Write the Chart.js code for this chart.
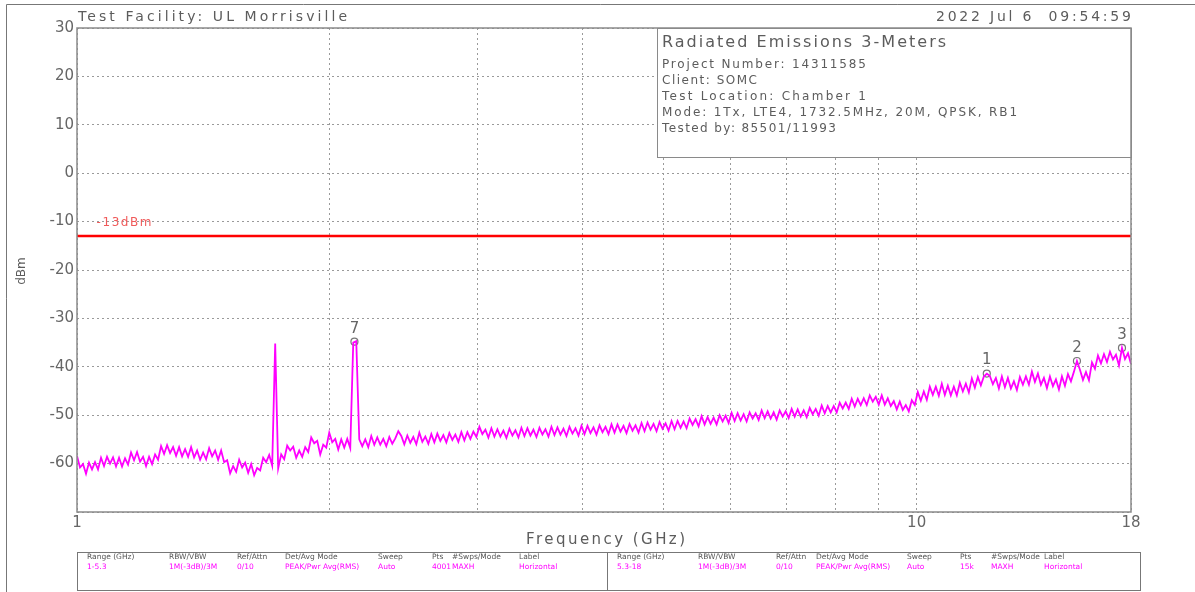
<!DOCTYPE html>
<html>
<head>
<meta charset="utf-8">
<title>Radiated Emissions 3-Meters</title>
<script src="https://cdn.jsdelivr.net/npm/chart.js@4.4.1/dist/chart.umd.min.js"></script>
<style>
  html, body { margin: 0; padding: 0; background: #fff; }
  canvas { display: block; }
</style>
</head>
<body>
<canvas id="chart" width="1195" height="592"></canvas>
<script>
// ---- values ----
const sweepStart = 1;   // GHz
const sweepStop = 18;   // GHz

// max-hold trace (dBm), one value per sweep point, left to right
const traceLevels = [
  -58.4, -60.8, -60.1, -62.1, -59.8, -61.2, -59.7, -61.2, -58.8, -60.5,
  -58.6, -60.0, -58.7, -60.6, -58.8, -60.6, -58.9, -60.2, -57.7, -59.3,
  -57.6, -59.6, -58.6, -60.5, -58.6, -60.1, -58.1, -59.2, -56.4, -58.0,
  -56.2, -57.8, -56.6, -58.4, -56.6, -58.5, -57.0, -58.6, -56.6, -58.7,
  -57.3, -59.2, -57.7, -59.1, -56.8, -58.5, -57.3, -59.2, -57.3, -59.7,
  -59.3, -62.0, -60.5, -61.7, -59.2, -60.8, -59.8, -61.9, -60.1, -62.4,
  -60.9, -61.4, -58.8, -59.7, -58.2, -60.4, -35.2, -61.0, -58.1, -59.1,
  -56.3, -57.3, -56.5, -58.8, -57.3, -58.6, -56.6, -57.6, -54.6, -55.8,
  -55.3, -58.1, -56.1, -56.7, -53.6, -55.6, -54.9, -57.1, -55.0, -56.7,
  -54.9, -56.8, -35.0, -34.7, -55.0, -56.4, -55.0, -56.6, -54.3, -56.1,
  -54.6, -56.1, -54.9, -56.4, -54.5, -55.9, -54.8, -53.3, -54.3, -56.0,
  -54.2, -55.7, -54.5, -56.0, -53.6, -55.5, -54.4, -55.9, -53.9, -55.6,
  -53.8, -55.3, -54.1, -55.6, -53.7, -55.1, -54.0, -55.5, -53.5, -55.2,
  -53.5, -54.9, -53.4, -54.5, -52.4, -53.9, -53.0, -54.6, -52.7, -54.4,
  -52.9, -54.4, -53.2, -54.7, -52.8, -54.2, -53.1, -54.6, -52.6, -54.3,
  -52.7, -54.2, -53.0, -54.5, -52.6, -54.0, -52.9, -54.4, -52.4, -54.1,
  -52.5, -54.0, -52.8, -54.3, -52.4, -53.8, -52.7, -54.2, -52.2, -53.9,
  -52.2, -53.7, -52.5, -54.0, -52.1, -53.5, -52.4, -53.9, -51.9, -53.6,
  -51.9, -53.4, -52.2, -53.7, -51.8, -53.2, -52.1, -53.6, -51.6, -53.3,
  -51.5, -53.0, -51.8, -53.3, -51.4, -52.8, -51.7, -53.2, -51.2, -52.9,
  -51.2, -52.6, -51.3, -52.7, -50.7, -52.0, -50.8, -52.3, -50.2, -51.9,
  -50.4, -51.8, -50.5, -51.9, -50.0, -51.3, -50.1, -51.6, -49.5, -51.2,
  -49.6, -51.1, -49.8, -51.3, -49.4, -50.7, -49.6, -51.0, -49.0, -50.6,
  -49.2, -50.7, -49.4, -50.9, -49.0, -50.3, -49.2, -50.6, -48.7, -50.3,
  -48.8, -50.3, -49.0, -50.4, -48.5, -49.8, -48.7, -50.1, -48.0, -49.6,
  -48.1, -49.4, -48.1, -49.4, -47.4, -48.6, -47.4, -48.7, -46.6, -48.2,
  -46.6, -47.9, -46.5, -47.9, -45.9, -47.2, -46.2, -47.8, -45.9, -47.8,
  -46.5, -48.1, -47.1, -48.8, -47.2, -48.9, -47.9, -49.2, -46.9, -47.9,
  -45.2, -47.0, -45.1, -46.8, -44.1, -45.8, -44.1, -46.0, -43.5, -45.8,
  -43.9, -45.9, -44.1, -45.9, -43.3, -45.1, -43.5, -45.3, -42.4, -44.3,
  -42.1, -43.8, -42.0, -41.4, -41.9, -43.6, -42.3, -44.5, -42.0, -44.2,
  -42.3, -44.5, -43.0, -44.8, -42.1, -43.7, -42.0, -43.7, -41.0, -43.1,
  -41.4, -43.7, -42.3, -44.4, -42.0, -44.0, -42.6, -44.7, -42.0, -43.9,
  -41.5, -43.0, -41.0, -38.8, -40.6, -42.7, -41.1, -42.8, -39.1, -40.4,
  -37.7, -39.3, -37.4, -39.0, -36.9, -38.5, -37.5, -39.7, -36.1, -38.4,
  -37.2, -39.4
];

const limitLevel = -13;
const limitLabel = "-13dBm";

const markerNames = ["1", "2", "3", "7"];
const markerFreqs = [12.12, 15.52, 17.56, 2.14];
const markerLevels = [-41.4, -38.8, -36.1, -34.8];

const yMin = -70;
const yMax = 30;
const yStep = 10;
const xGridValues = [1, 2, 3, 4, 5, 6, 7, 8, 9, 10, 18];
const xLabelValues = [1, 10, 18];

const headerLeft = "Test Facility: UL Morrisville";
const headerRight = "2022 Jul 6  09:54:59";
const infoTitle = "Radiated Emissions 3-Meters";
const infoLines = [
  "Project Number: 14311585",
  "Client: SOMC",
  "Test Location: Chamber 1",
  "Mode: 1Tx, LTE4, 1732.5MHz, 20M, QPSK, RB1",
  "Tested by: 85501/11993",
];
const xTitle = "Frequency (GHz)";
const yTitle = "dBm";

const tableHeaders = ["Range (GHz)", "RBW/VBW", "Ref/Attn", "Det/Avg Mode", "Sweep", "Pts", "#Swps/Mode", "Label"];
const tableRows = [
  ["1-5.3", "1M(-3dB)/3M", "0/10", "PEAK/Pwr Avg(RMS)", "Auto", "4001", "MAXH", "Horizontal"],
  ["5.3-18", "1M(-3dB)/3M", "0/10", "PEAK/Pwr Avg(RMS)", "Auto", "15k", "MAXH", "Horizontal"],
];

// ---- build datasets ----
const sweepFreqs = traceLevels.map((_, i) =>
  sweepStart * Math.pow(sweepStop / sweepStart, i / (traceLevels.length - 1))
);
const tracePoints = traceLevels.map((v, i) => ({ x: sweepFreqs[i], y: v }));
const limitPoints = [{ x: sweepStart, y: limitLevel }, { x: sweepStop, y: limitLevel }];
const markerPoints = markerFreqs.map((f, i) => ({ x: f, y: markerLevels[i] }));

const FONT = '"DejaVu Sans", sans-serif';
const INK = "#5c5c5c";
const PINK = "#ff00ff";

// text with letter spacing stretched to a target width (the plotter font is wide)
function drawText(ctx, s, x, y, size, color, width) {
  ctx.save();
  ctx.font = size + "px " + FONT;
  ctx.fillStyle = color;
  ctx.textAlign = "left";
  ctx.textBaseline = "middle";
  if (width) {
    const w = ctx.measureText(s).width;
    ctx.letterSpacing = ((width - w) / Math.max(s.length - 1, 1)).toFixed(2) + "px";
  }
  ctx.fillText(s, x, y);
  ctx.restore();
}

const decorPlugin = {
  id: "decor",
  beforeDraw(chart) {
    const ctx = chart.ctx;
    ctx.save();
    ctx.fillStyle = "#fff";
    ctx.fillRect(0, 0, chart.width, chart.height);
    ctx.restore();
  },
  beforeDatasetsDraw(chart) {
    // info box sits on top of the grid
    const ctx = chart.ctx;
    const ca = chart.chartArea;
    const left = ca.right - 474;
    const top = ca.top;
    ctx.save();
    ctx.fillStyle = "#fff";
    ctx.fillRect(left, top, ca.right - left, 129);
    ctx.strokeStyle = "#8a8a8a";
    ctx.lineWidth = 1;
    ctx.strokeRect(left + 0.5, top + 0.5, ca.right - left, 129);
    ctx.restore();
    drawText(ctx, infoTitle, left + 5, top + 15, 16, INK, 284);
    const widths = [204, 95, 204, 355, 174];
    infoLines.forEach((s, i) => drawText(ctx, s, left + 5, top + 37 + 16 * i, 12, INK, widths[i]));
  },
  afterDatasetsDraw(chart) {
    const ctx = chart.ctx;
    const ca = chart.chartArea;
    const xs = chart.scales.x;
    const ys = chart.scales.y;

    // plot frame
    ctx.save();
    ctx.strokeStyle = "#8a8a8a";
    ctx.lineWidth = 1.5;
    ctx.strokeRect(ca.left, ca.top, ca.right - ca.left, ca.bottom - ca.top);
    ctx.restore();

    // marker numbers
    ctx.save();
    ctx.font = "15px " + FONT;
    ctx.fillStyle = "#666";
    ctx.textAlign = "center";
    ctx.textBaseline = "middle";
    markerNames.forEach((n, i) => {
      ctx.fillText(n, xs.getPixelForValue(markerFreqs[i]), ys.getPixelForValue(markerLevels[i]) - 13);
    });
    ctx.restore();

    // limit label
    drawText(ctx, limitLabel, xs.getPixelForValue(1.055), ys.getPixelForValue(-10.2), 12, "#f05a5a", 55);
  },
  afterDraw(chart) {
    const ctx = chart.ctx;
    const ca = chart.chartArea;

    drawText(ctx, headerLeft, ca.left + 1, 17, 14, INK, 269);
    drawText(ctx, headerRight, ca.right - 195, 17, 14, INK, 195);
    drawText(ctx, xTitle, (ca.left + ca.right) / 2 - 78, 540, 15, INK, 159);

    ctx.save();
    ctx.translate(22, (ca.top + ca.bottom) / 2 + 1);
    ctx.rotate(-Math.PI / 2);
    ctx.font = "12px " + FONT;
    ctx.fillStyle = INK;
    ctx.textAlign = "center";
    ctx.textBaseline = "middle";
    ctx.fillText(yTitle, 0, 0);
    ctx.restore();

    // outer page frame (top and left only, the scan is cropped)
    ctx.save();
    ctx.strokeStyle = "#777";
    ctx.lineWidth = 1;
    ctx.beginPath();
    ctx.moveTo(6.5, chart.height);
    ctx.lineTo(6.5, 4.5);
    ctx.lineTo(chart.width, 4.5);
    ctx.stroke();
    ctx.restore();

    // settings table
    const tTop = 552, tBottom = 590, tLeft = ca.left, tRight = 1140, tMid = 607;
    ctx.save();
    ctx.strokeStyle = "#777";
    ctx.lineWidth = 1;
    ctx.strokeRect(tLeft + 0.5, tTop + 0.5, tRight - tLeft, tBottom - tTop);
    ctx.beginPath();
    ctx.moveTo(tMid + 0.5, tTop);
    ctx.lineTo(tMid + 0.5, tBottom);
    ctx.stroke();
    ctx.restore();
    const colOffsets = [
      [10, 92, 160, 208, 301, 355, 375, 442],
      [10, 91, 169, 209, 300, 353, 384, 437],
    ];
    [tLeft, tMid].forEach((x0, t) => {
      tableHeaders.forEach((h, c) => drawText(ctx, h, x0 + colOffsets[t][c], 557, 7.5, "#555"));
      tableRows[t].forEach((v, c) => drawText(ctx, v, x0 + colOffsets[t][c], 567, 7.5, PINK));
    });
  },
};

const tickFont = { family: FONT, size: 15 };

new Chart(document.getElementById("chart"), {
  type: "line",
  data: {
    datasets: [
      {
        label: "Trace",
        data: tracePoints,
        borderColor: PINK,
        borderWidth: 1.8,
        pointRadius: 0,
        tension: 0,
        fill: false,
      },
      {
        label: "Limit",
        data: limitPoints,
        borderColor: "#ff0000",
        borderWidth: 2.5,
        pointRadius: 0,
        fill: false,
      },
      {
        label: "Markers",
        data: markerPoints,
        showLine: false,
        pointStyle: "circle",
        pointRadius: 3.5,
        pointBorderWidth: 1.2,
        pointBorderColor: "#777",
        pointBackgroundColor: "rgba(255,255,255,0)",
      },
    ],
  },
  options: {
    responsive: false,
    animation: false,
    layout: { padding: { left: 0, top: 28, right: 64, bottom: 0 } },
    plugins: {
      legend: { display: false },
      tooltip: { enabled: false },
    },
    scales: {
      x: {
        type: "logarithmic",
        min: sweepStart,
        max: sweepStop,
        afterBuildTicks: (scale) => {
          scale.ticks = xGridValues.map((v) => ({ value: v }));
        },
        afterFit: (scale) => {
          scale.height = 80;
        },
        ticks: {
          autoSkip: false,
          maxRotation: 0,
          padding: 2,
          color: "#666",
          font: tickFont,
          callback: (v) => (xLabelValues.includes(v) ? String(v) : ""),
        },
        grid: { color: "#9a9a9a", lineWidth: 1, drawTicks: false },
        border: { display: false, dash: [2, 3] },
      },
      y: {
        type: "linear",
        min: yMin,
        max: yMax,
        afterFit: (scale) => {
          scale.width = 77;
        },
        ticks: {
          stepSize: yStep,
          padding: 3,
          color: "#666",
          font: tickFont,
          callback: (v) => (v === yMin ? "" : String(v)),
        },
        grid: { color: "#9a9a9a", lineWidth: 1, drawTicks: false },
        border: { display: false, dash: [2, 3] },
      },
    },
  },
  plugins: [decorPlugin],
});
</script>
</body>
</html>
